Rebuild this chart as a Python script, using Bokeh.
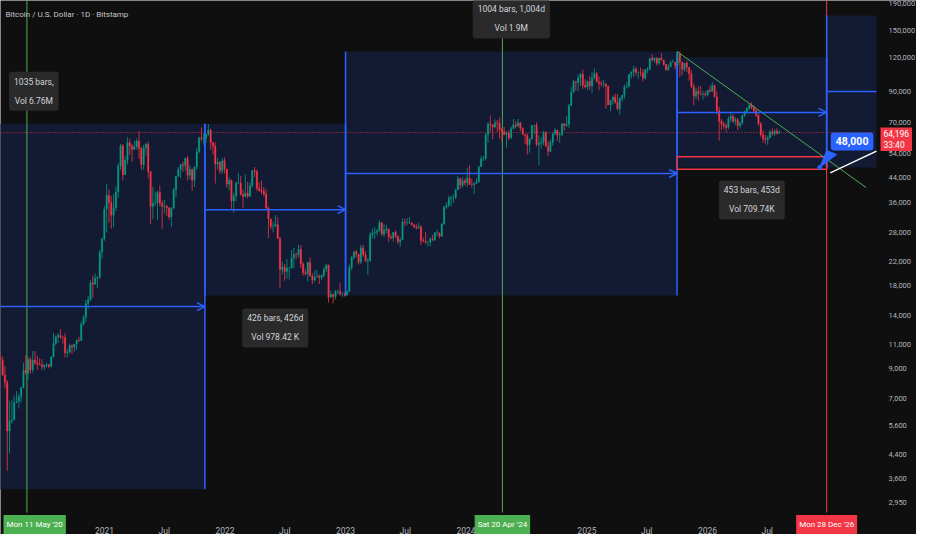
import math
import pandas as pd
from bokeh.plotting import figure
from bokeh.models import (Range1d, FixedTicker, NumeralTickFormatter, Label, Arrow,
                          OpenHead, ColumnDataSource, LogAxis, DatetimeAxis)
from bokeh.embed import file_html
from bokeh.resources import INLINE

# ---------------- weekly candles (USD thousands); each year block starts on a Monday ----------------
block_start = ["2020-02-17", "2021-01-04", "2022-01-03", "2023-01-02",
               "2024-01-01", "2025-01-06", "2026-01-05"]
first_open_k = 9.93

c20 = [9.66, 8.54, 8.04, 5.36, 5.83, 5.88, 6.78, 6.86, 7.13, 7.70, 8.89, 8.70, 9.73, 8.90, 9.66,
       9.45, 9.35, 9.30, 9.15, 9.25, 9.30, 9.16, 9.93, 11.10, 11.74, 11.85, 11.68, 11.66, 10.28,
       10.33, 10.92, 10.78, 11.05, 11.37, 11.36, 13.03, 13.78, 15.48, 15.96, 18.40, 18.18, 19.15,
       19.26, 23.74, 26.47, 34.00]
h20 = [10.20, 9.96, 9.19, 8.18, 6.90, 6.95, 7.20, 7.47, 7.30, 7.75, 9.46, 10.07, 9.96, 9.93, 10.42,
       10.44, 9.99, 9.79, 9.76, 9.38, 9.48, 9.37, 9.95, 12.10, 11.90, 12.10, 12.48, 11.83, 12.09,
       10.58, 11.10, 10.99, 10.95, 11.50, 11.72, 13.35, 14.06, 15.96, 16.48, 18.80, 19.50, 19.90,
       19.40, 24.20, 26.80, 34.80]
l20 = [9.30, 8.48, 7.63, 3.85, 4.45, 5.70, 5.86, 6.78, 6.46, 6.78, 7.65, 8.55, 8.20, 8.63, 8.70,
       9.27, 8.90, 9.25, 8.90, 8.90, 9.10, 9.02, 9.10, 9.87, 10.93, 11.15, 11.54, 11.10, 9.88,
       9.89, 10.20, 10.14, 10.38, 10.52, 11.20, 11.40, 12.90, 13.30, 14.80, 15.80, 16.20, 18.10,
       17.60, 19.00, 22.40, 26.10]

c21 = [38.10, 35.80, 32.26, 34.30, 39.20, 48.60, 57.50, 45.20, 51.00, 59.00, 57.40, 55.80, 57.10,
       59.80, 56.20, 49.10, 56.60, 58.20, 46.40, 34.70, 35.70, 35.80, 39.00, 35.60, 34.70, 34.80,
       34.30, 31.80, 34.30, 39.90, 44.60, 47.10, 49.20, 48.80, 51.80, 45.00, 47.30, 43.20, 48.20,
       54.70, 61.50, 60.90, 61.30, 63.30, 65.50, 59.00, 57.30, 49.40, 50.10, 46.70, 50.80, 47.30]
h21 = [41.95, 40.00, 37.80, 38.50, 40.95, 49.70, 58.35, 58.30, 52.60, 61.70, 61.00, 58.40, 60.00,
       61.20, 64.90, 57.00, 58.00, 59.00, 59.60, 46.60, 40.90, 39.30, 39.50, 41.30, 36.50, 36.60,
       35.20, 34.60, 34.50, 40.50, 44.70, 48.20, 49.40, 50.50, 52.00, 52.90, 48.80, 47.30, 48.40,
       56.50, 62.00, 67.00, 63.70, 63.50, 69.00, 66.30, 59.60, 59.20, 51.90, 50.60, 52.00, 52.10]
l21 = [28.00, 30.30, 28.85, 29.20, 33.40, 37.30, 47.00, 43.00, 45.00, 49.30, 53.25, 50.40, 55.50,
       55.60, 51.50, 47.00, 47.10, 53.00, 43.90, 30.00, 31.20, 34.80, 31.00, 34.80, 28.80, 32.70,
       32.10, 31.10, 29.30, 34.00, 37.50, 44.40, 43.90, 46.40, 46.70, 43.00, 43.40, 39.60, 40.80,
       47.10, 54.00, 59.70, 58.00, 59.00, 62.30, 55.60, 53.30, 42.00, 47.30, 45.50, 45.60, 45.70]

c22 = [41.80, 43.10, 36.30, 37.90, 42.20, 42.20, 38.40, 37.70, 38.80, 37.80, 41.30, 46.80, 46.40,
       40.40, 39.70, 39.40, 38.50, 34.30, 31.30, 29.40, 29.45, 29.90, 26.60, 20.50, 21.00, 20.20,
       20.80, 20.80, 22.60, 23.30, 23.20, 24.30, 21.50, 20.00, 19.80, 21.80, 19.40, 18.80, 19.30,
       19.40, 19.20, 19.60, 20.60, 21.30, 16.30, 16.70, 16.40, 17.10, 17.10, 16.80, 16.80, 16.60]
h22 = [47.50, 44.40, 43.50, 38.90, 42.70, 45.80, 44.80, 40.00, 45.40, 42.60, 42.40, 46.90, 48.20,
       47.20, 42.40, 43.00, 40.80, 40.00, 34.70, 30.70, 30.60, 32.30, 31.70, 26.90, 21.90, 21.50,
       22.40, 21.00, 24.20, 24.60, 23.60, 25.20, 25.20, 21.90, 20.60, 21.90, 22.70, 19.90, 20.40,
       20.50, 19.70, 19.70, 21.00, 21.50, 21.40, 17.20, 16.80, 17.30, 17.40, 18.40, 17.00, 16.90]
l22 = [40.60, 39.70, 34.00, 32.95, 36.25, 41.70, 38.00, 34.30, 37.40, 37.20, 37.60, 40.50, 44.30,
       39.50, 39.20, 38.50, 37.70, 33.70, 26.70, 28.70, 28.00, 29.30, 26.60, 17.60, 19.70, 18.70,
       19.00, 18.90, 20.70, 20.70, 22.40, 22.70, 20.80, 19.50, 19.60, 18.60, 19.40, 18.20, 18.50,
       19.20, 18.20, 18.80, 19.20, 20.10, 15.60, 16.30, 15.50, 16.00, 16.70, 16.50, 16.30, 16.40]

c23 = [17.10, 20.90, 22.70, 23.80, 23.30, 21.80, 24.60, 23.20, 22.00, 22.10, 27.50, 27.90, 28.00,
       28.30, 30.30, 27.60, 28.50, 28.80, 26.90, 26.70, 28.00, 27.10, 25.90, 26.30, 30.50, 30.30,
       30.30, 30.30, 29.80, 29.30, 29.10, 29.30, 26.10, 26.00, 25.80, 25.80, 26.50, 26.30, 27.90,
       27.90, 27.10, 30.00, 34.50, 35.00, 37.10, 37.40, 37.40, 39.90, 43.80, 41.40, 43.00, 42.30]
h23 = [17.20, 21.40, 23.00, 23.90, 24.20, 23.40, 25.20, 25.20, 23.90, 22.60, 28.00, 28.90, 29.20,
       28.80, 31.00, 30.50, 30.00, 29.80, 28.90, 27.60, 28.00, 28.40, 27.30, 26.80, 31.40, 31.40,
       31.50, 31.80, 30.40, 29.80, 29.90, 30.20, 29.70, 26.80, 28.10, 26.10, 26.90, 27.40, 28.00,
       28.60, 27.90, 30.30, 35.00, 35.90, 38.00, 37.90, 38.40, 40.20, 44.70, 43.80, 44.30, 43.80]
l23 = [16.50, 17.10, 20.40, 22.30, 22.70, 21.40, 21.50, 22.80, 21.90, 19.60, 21.90, 26.60, 26.50,
       27.30, 28.20, 27.10, 26.90, 27.70, 25.80, 26.40, 25.90, 26.60, 25.40, 24.80, 26.30, 29.50,
       29.70, 30.00, 29.60, 29.00, 28.60, 28.80, 25.20, 25.80, 25.40, 24.90, 24.90, 26.00, 26.00,
       27.20, 26.60, 26.90, 29.80, 34.00, 34.50, 34.80, 35.70, 36.90, 39.90, 40.20, 40.60, 41.30]

c24 = [43.90, 41.70, 41.60, 42.10, 42.60, 48.30, 51.60, 51.70, 63.10, 68.90, 68.40, 67.20, 69.70,
       69.40, 65.70, 64.90, 63.10, 63.90, 61.50, 66.30, 68.50, 67.80, 69.60, 66.60, 63.20, 62.70,
       58.00, 60.80, 68.20, 68.20, 58.10, 58.70, 59.40, 64.10, 57.30, 54.80, 59.10, 63.60, 65.60,
       62.80, 62.90, 69.00, 67.90, 68.80, 80.40, 89.80, 97.90, 97.20, 101.20, 104.30, 95.20,
       93.70, 98.30]
h24 = [47.90, 49.00, 43.60, 42.20, 43.90, 48.60, 52.80, 52.90, 64.00, 70.00, 73.80, 68.90, 71.70,
       71.30, 72.70, 66.80, 67.20, 64.70, 65.50, 67.60, 71.90, 70.60, 71.90, 70.20, 67.00, 63.40,
       63.80, 61.40, 68.40, 68.50, 70.00, 62.70, 61.80, 65.00, 64.90, 59.80, 60.60, 64.10, 66.50,
       65.50, 64.50, 69.40, 69.50, 73.60, 81.50, 93.50, 99.60, 98.70, 104.00, 105.30, 108.30,
       99.90, 98.90]
l24 = [40.80, 41.50, 40.60, 38.50, 41.80, 42.30, 48.30, 50.60, 50.90, 59.00, 64.50, 60.70, 66.50,
       64.50, 61.00, 59.70, 62.80, 56.50, 60.20, 60.80, 66.10, 66.60, 67.10, 65.00, 63.20, 58.40,
       53.50, 54.30, 60.60, 63.40, 57.20, 49.00, 56.10, 57.80, 57.20, 52.60, 54.60, 57.60, 62.70,
       59.80, 58.90, 62.40, 65.10, 67.50, 66.80, 80.30, 89.40, 90.80, 90.50, 94.20, 92.20,
       92.70, 91.30]

c25 = [94.50, 101.30, 104.80, 97.70, 96.50, 96.10, 96.30, 94.30, 80.70, 84.00, 86.10, 82.40, 78.30,
       85.30, 87.50, 93.80, 94.30, 104.20, 106.50, 109.00, 105.70, 105.70, 105.60, 100.90, 108.40,
       109.20, 119.10, 117.30, 119.40, 114.20, 119.30, 117.40, 113.50, 108.20, 111.10, 115.30,
       115.30, 112.20, 123.50, 115.10, 108.60, 114.50, 110.50, 104.70, 94.20, 86.80, 90.40,
       88.40, 88.20, 88.40, 87.80, 91.50]
h25 = [102.70, 106.30, 109.60, 106.40, 102.50, 98.80, 99.50, 96.50, 95.00, 84.00, 87.40, 88.80,
       88.50, 86.00, 86.50, 95.80, 97.90, 104.30, 105.80, 111.90, 110.70, 106.80, 110.40, 108.90,
       108.50, 110.50, 119.00, 123.20, 120.20, 120.00, 119.30, 124.50, 117.40, 113.50, 113.40,
       116.80, 117.90, 115.40, 125.70, 126.20, 115.90, 114.00, 116.40, 110.70, 107.50, 96.60,
       93.10, 94.20, 94.60, 90.60, 90.40, 91.10]
l25 = [91.20, 89.30, 99.60, 97.80, 91.20, 94.10, 93.40, 78.20, 81.50, 76.60, 81.10, 81.60, 77.10,
       74.50, 83.00, 85.00, 92.80, 93.40, 100.80, 102.00, 103.10, 100.40, 102.70, 98.20, 99.60,
       105.10, 107.50, 115.80, 114.70, 112.00, 112.70, 116.80, 111.70, 107.30, 107.30, 110.60,
       114.70, 108.60, 111.60, 102.00, 103.50, 106.60, 106.30, 98.90, 93.00, 80.60, 84.70,
       83.80, 87.50, 84.40, 86.60, 86.90]

c26 = [90.60, 95.00, 86.50, 77.00, 70.50, 68.80, 68.00, 67.00, 72.00, 73.50, 70.50, 71.50, 68.00,
       69.50, 74.00, 76.50, 78.50, 80.50, 79.00, 77.00, 74.00, 69.00, 63.00, 61.00, 60.50, 61.50,
       64.50, 63.50, 65.00, 63.80, 64.196]
h26 = [94.80, 97.90, 95.50, 90.50, 79.50, 72.00, 70.50, 69.50, 73.50, 75.50, 75.00, 73.00, 72.50,
       70.50, 74.50, 77.00, 79.00, 82.00, 82.50, 80.50, 78.00, 75.00, 70.00, 65.50, 63.00, 62.50,
       65.50, 66.50, 66.00, 66.50, 65.50]
l26 = [89.30, 90.10, 86.00, 74.50, 60.00, 65.50, 66.00, 64.50, 66.00, 70.00, 69.50, 68.50, 65.50,
       66.50, 68.50, 73.00, 75.00, 77.50, 78.00, 76.00, 73.00, 68.00, 62.00, 59.00, 58.50, 58.00,
       61.00, 62.50, 62.50, 63.00, 63.50]

closes = [c20, c21, c22, c23, c24, c25, c26]
highs = [h20, h21, h22, h23, h24, h25, h26]
lows = [l20, l21, l22, l23, l24, l25, l26]

# ---------------- axes ----------------
price_ticks = [2950, 3600, 4400, 5600, 7000, 9000, 11000, 14000, 18000, 22000, 28000, 36000,
               44000, 54000, 70000, 90000, 120000, 150000, 190000]
time_ticks = ["2021-01-01", "2021-07-01", "2022-01-01", "2022-07-01", "2023-01-01", "2023-07-01",
              "2024-01-01", "2025-01-01", "2025-07-01", "2026-01-01", "2026-07-01"]
time_labels = ["2021", "Jul", "2022", "Jul", "2023", "Jul", "2024", "2025", "Jul", "2026", "Jul"]
view_start, view_end = "2020-02-21", "2027-05-28"      # left / right edge of the price pane
view_low, view_high = 2720, 192600                      # bottom / top edge of the price pane

# ---------------- drawings ----------------
rng_start = ["2018-12-31", "2021-11-01", "2023-01-01", "2025-10-01", "2026-12-28"]
rng_end = ["2021-11-01", "2023-01-01", "2025-10-01", "2026-12-28", "2028-03-27"]
rng_p0 = [3300, 69000, 16550, 120000, 48000]
rng_p1 = [69000, 16550, 126000, 48000, 170000]
rng_text = ["1035 bars,\nVol 6.76M", "426 bars, 426d\nVol 978.42 K",
            "1004 bars, 1,004d\nVol 1.9M", "453 bars, 453d\nVol 709.74K", ""]

zone_start, zone_end = "2025-10-01", "2026-12-28"
zone_low, zone_high = 47300, 52500
trend_dates = ["2025-10-01", "2027-04-27"]
trend_prices = [126000, 40600]
ray_dates = ["2027-01-08", "2027-05-28"]
ray_prices = [45900, 55000]
target_date, target_price, target_text = "2026-12-07", 48000, "48,000"
marker_dates = ["2020-05-11", "2024-04-20", "2026-12-28"]
marker_text = ["Mon 11 May '20", "Sat 20 Apr '24", "Mon 28 Dec '26"]
marker_color = ["#4caf50", "#4caf50", "#f23645"]
last_price, countdown = 64196, "33:40"
title = "Bitcoin / U.S. Dollar \u00b7 1D \u00b7 Bitstamp"

# ---------------- styles / geometry ----------------
BG = "#0f0f0f"
BLUE = "#2962ff"
BOXFILL = "#131a33"
UP, DOWN = "#089981", "#f23645"
RED, GREEN = "#f23645", "#4caf50"
TXT = "#d1d4dc"
AXT = "#b2b5be"
FONT = "Roboto"
W, H = 916, 534          # whole figure
PW, PH = 876, 512        # price pane inside it (axes strips to the right and below)
DAY = 86400000.0


def ms(d):
    return pd.Timestamp(d).value / 1e6


x0, xpane = ms(view_start), ms(view_end)
ms_per_px = (xpane - x0) / PW
ln_per_px = math.log(view_high / view_low) / PH
x_full_end = x0 + W * ms_per_px
y_full_low = view_high * math.exp(-H * ln_per_px)


def shift(xms, price, dx, dy):
    return xms + dx * ms_per_px, price * math.exp(dy * ln_per_px)


# build candles
cx, co, ch, cl, cc, ccol = [], [], [], [], [], []
prev = first_open_k
for start, cs, hs, ls in zip(block_start, closes, highs, lows):
    t0 = ms(start)
    for i, (c, h, l) in enumerate(zip(cs, hs, ls)):
        o = prev
        cx.append(t0 + (7 * i + 3.5) * DAY)
        co.append(o * 1000)
        cc.append(c * 1000)
        ch.append(max(h, o, c) * 1000)
        cl.append(min(l, o, c) * 1000)
        ccol.append(UP if c >= o else DOWN)
        prev = c

src = ColumnDataSource(dict(x=cx, high=ch, low=cl,
                            top=[max(a, b) for a, b in zip(co, cc)],
                            bot=[min(a, b) for a, b in zip(co, cc)], color=ccol))

p = figure(width=W, height=H, y_axis_type="log", x_axis_location=None, y_axis_location=None,
           x_range=Range1d(x0, x_full_end), y_range=Range1d(y_full_low, view_high),
           output_backend="svg", toolbar_location=None,
           min_border=0, min_border_left=0, min_border_top=0, min_border_right=0,
           min_border_bottom=0, background_fill_color=BG, border_fill_color=BG,
           outline_line_color=None)
p.grid.visible = False

# axes drawn at the pane edges
tt = [int(ms(t)) for t in time_ticks]
xa = DatetimeAxis(fixed_location=view_low, ticker=FixedTicker(ticks=tt),
                  major_label_overrides={t: lab for t, lab in zip(tt, time_labels)})
ya = LogAxis(fixed_location=xpane, ticker=FixedTicker(ticks=price_ticks),
             formatter=NumeralTickFormatter(format="0,0"))
for ax in (xa, ya):
    ax.axis_line_color = None
    ax.major_tick_line_color = None
    ax.minor_tick_line_color = None
    ax.major_label_text_color = AXT
    ax.major_label_text_font = FONT
ya.major_label_text_font_size = "7.5px"
ya.major_label_standoff = 6
xa.major_label_text_font_size = "8.5px"
xa.major_label_standoff = 7
p.add_layout(xa, "below")
p.add_layout(ya, "right")

# range boxes (clipped at the pane's right edge)
qs = dict(left=[], right=[], bottom=[], top=[])
for s, e, a, b in zip(rng_start, rng_end, rng_p0, rng_p1):
    qs["left"].append(ms(s)); qs["right"].append(min(ms(e), xpane))
    qs["bottom"].append(min(a, b)); qs["top"].append(max(a, b))
p.quad(source=ColumnDataSource(qs), left="left", right="right", bottom="bottom", top="top",
       fill_color=BOXFILL, line_color=None)

# price line (dotted)
p.segment(x0=[x0], x1=[xpane], y0=[last_price], y1=[last_price], line_color=RED,
          line_dash="1 2", line_width=1, line_alpha=0.9)

# vertical marker lines
for d, col in zip(marker_dates, marker_color):
    p.segment(x0=[ms(d)], x1=[ms(d)], y0=[view_low], y1=[view_high * 2],
              line_color=col, line_width=1)

# range box edges
for s, e, a, b in zip(rng_start, rng_end, rng_p0, rng_p1):
    xs, xe = ms(s), ms(e)
    lo, hi = min(a, b), max(a, b)
    for xv in (xs, xe):
        if xv <= xpane:
            p.segment(x0=[xv], x1=[xv], y0=[lo], y1=[hi], line_color=BLUE, line_width=1.5)

# zone rectangle
p.quad(left=[ms(zone_start)], right=[ms(zone_end)], bottom=[zone_low], top=[zone_high],
       fill_color=None, line_color=RED, line_width=1.5)

# candles
p.segment(x0="x", x1="x", y0="low", y1="high", line_color="color", line_width=0.8, source=src)
p.vbar(x="x", width=4.5 * DAY, top="top", bottom="bot", fill_color="color",
       line_color="color", line_width=0.3, source=src)

# middle arrows of the range boxes
for s, e, a, b in zip(rng_start, rng_end, rng_p0, rng_p1):
    xs, xe = ms(s), ms(e)
    mid = math.sqrt(a * b)
    if xe < xpane:
        p.add_layout(Arrow(end=OpenHead(size=8, line_color=BLUE, line_width=1.5),
                           x_start=max(xs, x0 - 10 * DAY), y_start=mid, x_end=xe, y_end=mid,
                           line_color=BLUE, line_width=1.5))
    else:
        p.segment(x0=[xs], x1=[xpane], y0=[mid], y1=[mid], line_color=BLUE, line_width=1.5)

# trend line and ray
p.line([ms(d) for d in trend_dates], trend_prices, line_color=GREEN, line_width=1)
p.line([ms(d) for d in ray_dates], ray_prices, line_color="#ffffff", line_width=1.5)

# target pointer
tx = ms(target_date)
pts = [shift(tx, target_price, dx, dy) for dx, dy in [(0, 0), (7, 17), (17, 13)]]
p.patch([q[0] for q in pts], [q[1] for q in pts], fill_color=BLUE, line_color=BLUE)
p.scatter([tx], [target_price], size=4, color=BLUE)
p.add_layout(Label(x=tx, y=target_price, text=target_text, x_offset=11, y_offset=17,
                   text_align="left", text_baseline="bottom", text_font=FONT,
                   text_font_size="10.5px", text_font_style="bold", text_color="#ffffff",
                   background_fill_color=BLUE, padding=5, border_radius=3))

# range labels
PAD = 5
for s, e, a, b, txt in zip(rng_start, rng_end, rng_p0, rng_p1, rng_text):
    if not txt:
        continue
    up = b > a
    xm = (ms(s) + ms(e)) / 2
    p.add_layout(Label(x=xm, y=max(a, b) if up else min(a, b), text=txt,
                       text_align="center", text_baseline="bottom" if up else "top",
                       y_offset=(8 + PAD) if up else -(8 + PAD),
                       text_font=FONT, text_font_size="8.5px", text_color=TXT,
                       text_line_height=1.9, background_fill_color="#2a2a2a",
                       padding=PAD, border_radius=3))

# title
p.add_layout(Label(x=5, y=H - 14, x_units="screen", y_units="screen", text=title,
                   text_baseline="middle", text_font=FONT, text_font_size="8px",
                   text_color="#c4c6cc"))

# date markers on the time axis
axis_mid_y = (H - PH) - 12
for d, t, col in zip(marker_dates, marker_text, marker_color):
    xm = ms(d)
    px = (xm - x0) / ms_per_px
    if px < 32:
        lab = Label(x=3, y=axis_mid_y, x_units="screen", y_units="screen", text_align="left")
    else:
        lab = Label(x=xm, y=axis_mid_y, y_units="screen", text_align="center")
    lab.text = t
    lab.text_baseline = "middle"
    lab.text_font = FONT
    lab.text_font_size = "8px"
    lab.text_color = "#ffffff"
    lab.background_fill_color = col
    lab.padding = (3, 5)
    p.add_layout(lab)

# last price badge on the price axis
p.add_layout(Label(x=PW + 4, y=last_price, x_units="screen",
                   text=f"{last_price:,}\n{countdown}", text_align="left",
                   text_baseline="top", y_offset=5, text_font=FONT, text_font_size="8.5px",
                   text_color="#ffffff", text_line_height=1.15,
                   background_fill_color=RED, padding=(3, 1)))

open("out.html", "w").write(file_html(p, INLINE))
